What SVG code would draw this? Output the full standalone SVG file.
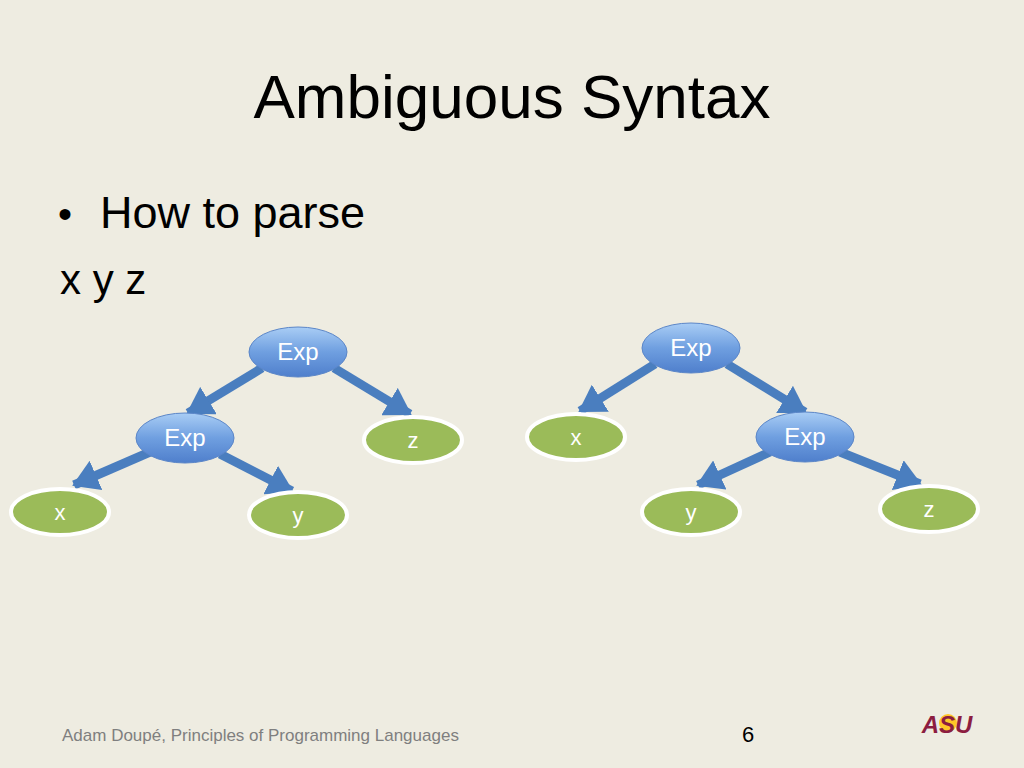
<svg xmlns="http://www.w3.org/2000/svg" width="1024" height="768" viewBox="0 0 1024 768">
<defs>
<linearGradient id="bg" x1="0" y1="0" x2="0" y2="1"><stop offset="0" stop-color="#a9cdf5"/><stop offset="0.5" stop-color="#6f9fe0"/><stop offset="1" stop-color="#4f7fcc"/></linearGradient>
<marker id="ah" markerUnits="userSpaceOnUse" markerWidth="28" markerHeight="32" refX="24" refY="16" orient="auto"><path d="M0,0 L26,16 L0,32 Z" fill="#4a7ebf"/></marker>
</defs>
<style>
.conn line{stroke:#4a7ebf;stroke-width:9}
.b ellipse{fill:url(#bg);stroke:#5b86c8;stroke-width:1}
.g ellipse{fill:#9bbb59;stroke:#fff;stroke-width:4}
.t{font-family:"Liberation Sans",Arial,sans-serif;fill:#fff;font-size:24px;text-anchor:middle}
.g .t{font-size:22px}
</style>
<rect width="1024" height="768" fill="#eeece1"/>
<text x="512" y="118" font-family="Liberation Sans,Arial,sans-serif" font-size="62" text-anchor="middle" fill="#000">Ambiguous Syntax</text>
<text x="58" y="228" font-family="Liberation Sans,Arial,sans-serif" font-size="40" fill="#000">•</text>
<text x="100" y="228" font-family="Liberation Sans,Arial,sans-serif" font-size="45" fill="#000">How to parse</text>
<text x="60" y="294" font-family="Liberation Sans,Arial,sans-serif" font-size="42" fill="#000">x y z</text>
<g class="conn">
<line x1="262" y1="368" x2="188" y2="413" marker-end="url(#ah)"/>
<line x1="334" y1="368" x2="410" y2="414" marker-end="url(#ah)"/>
<line x1="150" y1="452" x2="74" y2="485" marker-end="url(#ah)"/>
<line x1="220" y1="454" x2="292" y2="491" marker-end="url(#ah)"/>
<line x1="655" y1="364" x2="580" y2="411" marker-end="url(#ah)"/>
<line x1="727" y1="364" x2="805" y2="412" marker-end="url(#ah)"/>
<line x1="770" y1="452" x2="698" y2="485" marker-end="url(#ah)"/>
<line x1="840" y1="452" x2="920" y2="484" marker-end="url(#ah)"/>
</g>
<g id="n1" class="b"><ellipse cx="298" cy="352" rx="49" ry="25"/><text class="t" x="298" y="360">Exp</text></g>
<g id="n2" class="b"><ellipse cx="185" cy="438" rx="49" ry="25"/><text class="t" x="185" y="446">Exp</text></g>
<g id="n3" class="g"><ellipse cx="413" cy="440" rx="49" ry="23"/><text class="t" x="413" y="448">z</text></g>
<g id="n4" class="g"><ellipse cx="60" cy="512" rx="49" ry="23"/><text class="t" x="60" y="520">x</text></g>
<g id="n5" class="g"><ellipse cx="298" cy="515" rx="49" ry="23"/><text class="t" x="298" y="523">y</text></g>
<g id="n6" class="b"><ellipse cx="691" cy="348" rx="49" ry="25"/><text class="t" x="691" y="356">Exp</text></g>
<g id="n7" class="g"><ellipse cx="576" cy="437" rx="49" ry="23"/><text class="t" x="576" y="445">x</text></g>
<g id="n8" class="b"><ellipse cx="805" cy="437" rx="49" ry="25"/><text class="t" x="805" y="445">Exp</text></g>
<g id="n9" class="g"><ellipse cx="691" cy="512" rx="49" ry="23"/><text class="t" x="691" y="520">y</text></g>
<g id="n10" class="g"><ellipse cx="929" cy="509" rx="49" ry="23"/><text class="t" x="929" y="517">z</text></g>
<text x="62" y="741" font-family="Liberation Sans,Arial,sans-serif" font-size="17" fill="#7f7f7f">Adam Doupé, Principles of Programming Languages</text>
<text x="748" y="742" font-family="Liberation Sans,Arial,sans-serif" font-size="22" text-anchor="middle" fill="#000">6</text>
<circle cx="948" cy="723" r="9" fill="#ffc627"/>
<text x="947" y="733" font-family="Liberation Sans,Arial,sans-serif" font-size="24" font-weight="bold" font-style="italic" text-anchor="middle" fill="#8c1d40">ASU</text>
</svg>
